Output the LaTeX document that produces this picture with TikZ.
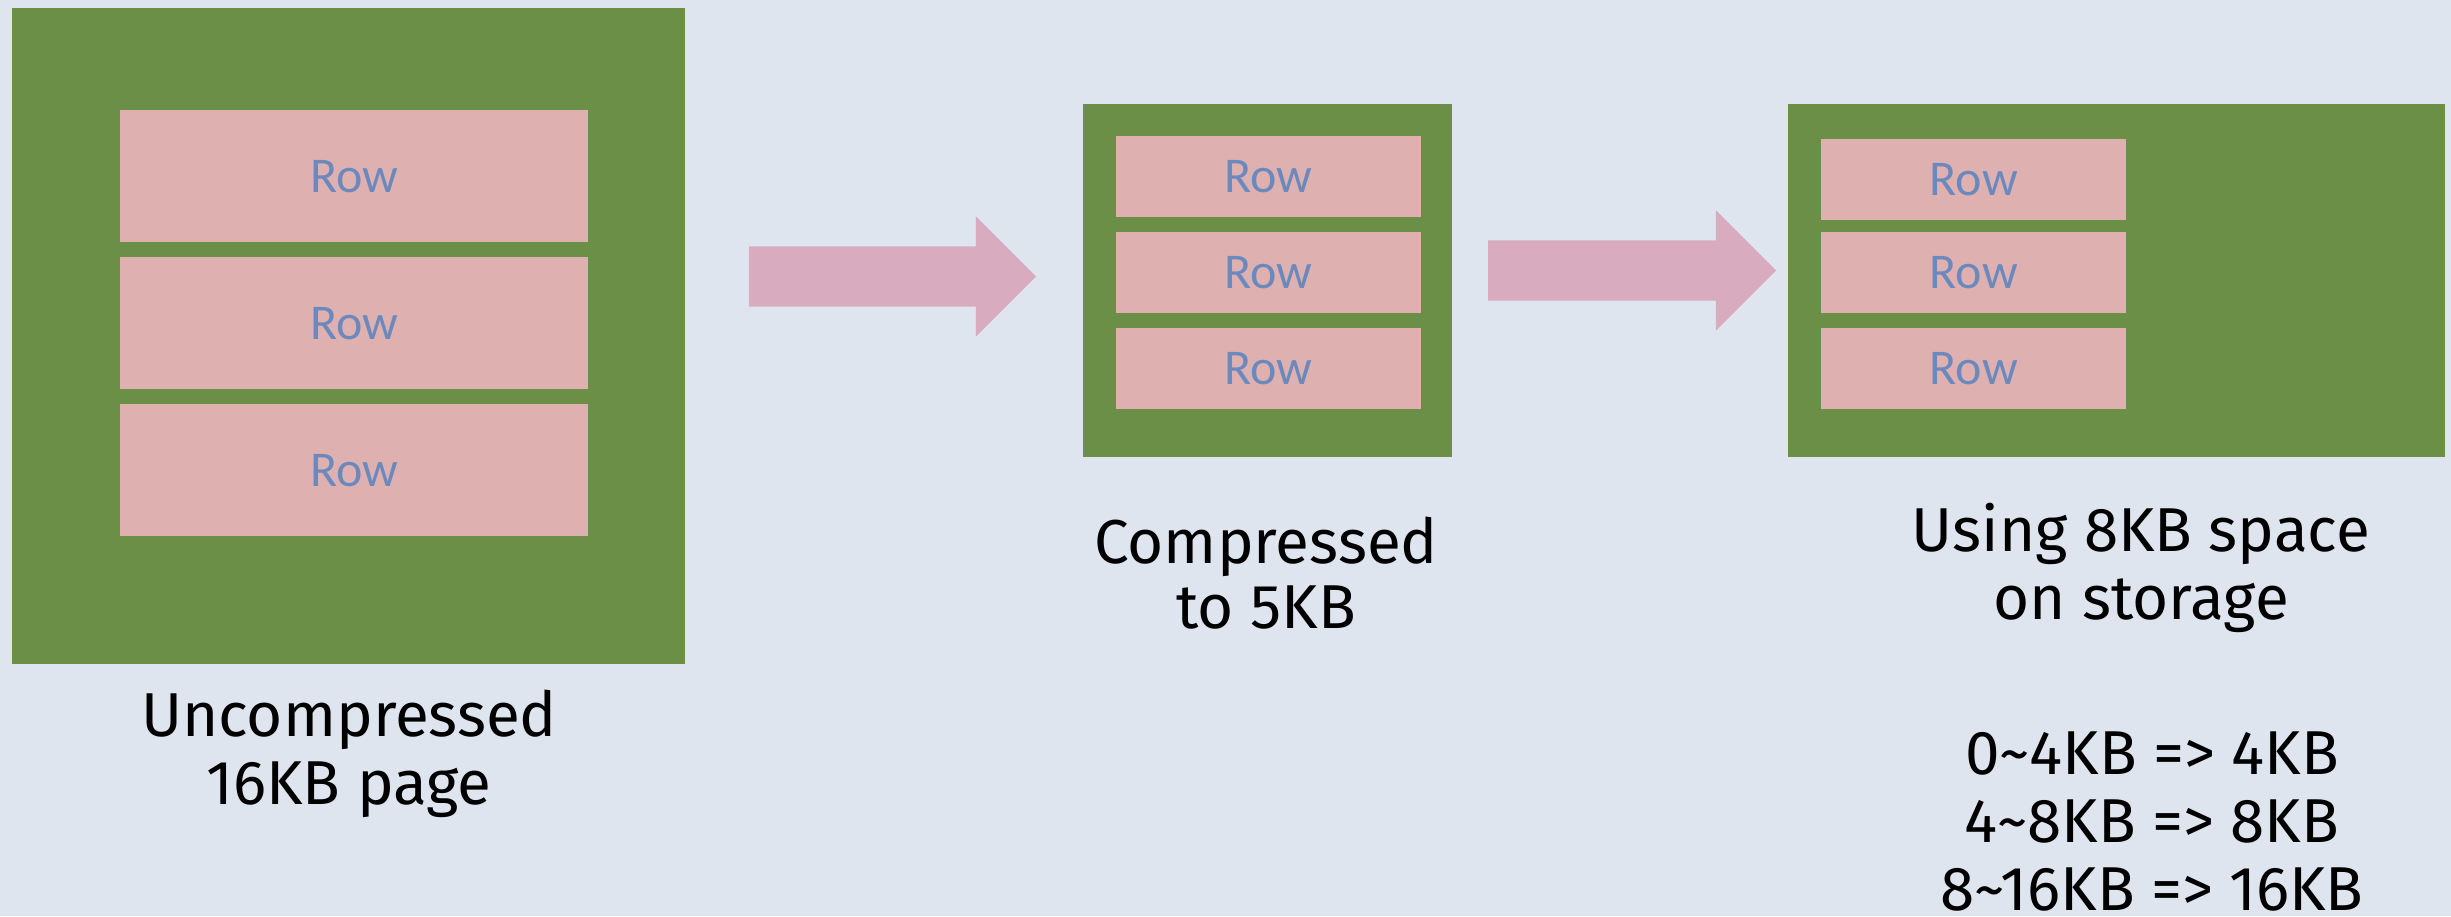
\documentclass[tikz,border=0pt]{standalone}
\usepackage{fontspec}
\setmainfont{Fira Sans}
\newfontfamily\rowfont{Carlito}
\usetikzlibrary{shapes.arrows}

\definecolor{bgcol}{HTML}{DEE5EF}
\definecolor{pagegreen}{HTML}{6C8F48}
\definecolor{rowpink}{HTML}{DFB0B0}
\definecolor{arrowpink}{HTML}{D8ABBE}
\definecolor{rowtext}{HTML}{6C89BE}

\tikzset{
  page/.style={fill=pagegreen, draw=none, inner sep=0pt, anchor=north west},
  rowbox/.style={fill=rowpink, draw=none, inner sep=0pt, anchor=north west,
    text=rowtext, font=\rowfont\fontsize{50}{60}\selectfont},
  % shaft 60 thick, head 120 wide
  flow/.style={single arrow, fill=arrowpink, draw=none, inner sep=0pt,
    text height=30pt, text depth=30pt, text width=0pt,
    single arrow head extend=30pt, single arrow head indent=0pt,
    single arrow tip angle=90, shape border rotate=0},
  caption/.style={align=center, anchor=base, inner sep=0pt,
    font=\fontsize{62}{68}\selectfont, text=black}
}

\begin{document}
\begin{tikzpicture}[x=1pt, y=-1pt]
  \useasboundingbox (0,0) rectangle (2451,916);
  \fill[bgcol] (0,0) rectangle (2451,916);

  % uncompressed page
  \node[page, minimum width=673pt, minimum height=656pt] (p1) at (12,8) {};
  \node[rowbox, minimum width=468pt, minimum height=132pt] (p1r1) at (120,110) {Row};
  \node[rowbox, minimum width=468pt, minimum height=132pt] (p1r2) at (120,257) {Row};
  \node[rowbox, minimum width=468pt, minimum height=132pt] (p1r3) at (120,404) {Row};
  % captions are placed by the baseline of their last line
  \node[caption] (c1) at (349,804) {Uncompressed\\16KB page};

  % compressed page
  \node[page, minimum width=369pt, minimum height=353pt] (p2) at (1083,104) {};
  \node[rowbox, minimum width=305pt, minimum height=81pt] (p2r1) at (1116,136) {Row};
  \node[rowbox, minimum width=305pt, minimum height=81pt] (p2r2) at (1116,232) {Row};
  \node[rowbox, minimum width=305pt, minimum height=81pt] (p2r3) at (1116,328) {Row};
  \node[caption, font=\fontsize{62}{65}\selectfont] (c2) at (1266,628) {Compressed\\to 5KB};

  % page as stored
  \node[page, minimum width=657pt, minimum height=353pt] (p3) at (1788,104) {};
  \node[rowbox, minimum width=305pt, minimum height=81pt] (p3r1) at (1821,139) {Row};
  \node[rowbox, minimum width=305pt, minimum height=81pt] (p3r2) at (1821,232) {Row};
  \node[rowbox, minimum width=305pt, minimum height=81pt] (p3r3) at (1821,328) {Row};
  \node[caption] (c3) at (2141,619) {Using 8KB space\\on storage};
  \node[caption] (c4) at (2152,910)
    {0\textasciitilde 4KB => 4KB\\4\textasciitilde 8KB => 8KB\\8\textasciitilde 16KB => 16KB};

  % block arrows between the pages
  \node[flow, minimum height=287pt] (a1) at (877.5,276.5) {};
  \node[flow, minimum height=288pt] (a2) at (1617,270.5) {};
\end{tikzpicture}
\end{document}
